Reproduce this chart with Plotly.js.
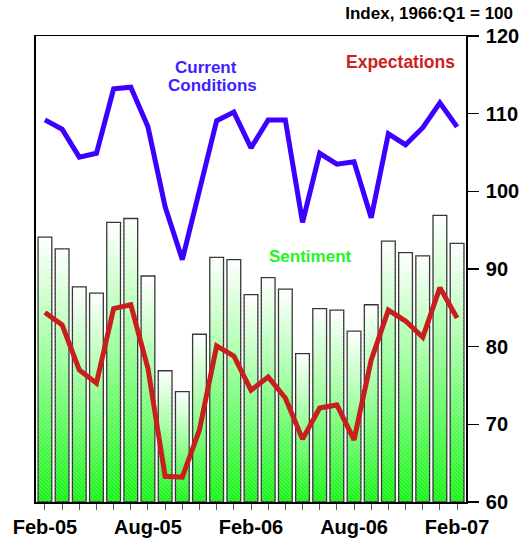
<!DOCTYPE html>
<html>
<head>
<meta charset="utf-8">
<script src="https://cdn.plot.ly/plotly-3.0.1.min.js"></script>
<style>
  html, body { margin: 0; padding: 0; background: #ffffff; }
  #chart { width: 519px; height: 544px; }
</style>
</head>
<body>
<div id="chart"></div>
<script>
// ---- Data ----
const months = [
  "Feb-05","Mar-05","Apr-05","May-05","Jun-05","Jul-05","Aug-05","Sep-05","Oct-05","Nov-05","Dec-05",
  "Jan-06","Feb-06","Mar-06","Apr-06","May-06","Jun-06","Jul-06","Aug-06","Sep-06","Oct-06","Nov-06","Dec-06",
  "Jan-07","Feb-07"
];
const sentiment = [94.1, 92.6, 87.7, 86.9, 96.0, 96.5, 89.1, 76.9, 74.2, 81.6, 91.5,
                   91.2, 86.7, 88.9, 87.4, 79.1, 84.9, 84.7, 82.0, 85.4, 93.6, 92.1, 91.7,
                   96.9, 93.3];
const currentConditions = [109.2, 108.0, 104.4, 104.9, 113.2, 113.4, 108.3, 98.0, 91.2, 100.4, 109.1,
                           110.2, 105.6, 109.2, 109.2, 96.0, 104.9, 103.5, 103.8, 96.6, 107.4, 106.0, 108.2,
                           111.4, 108.3];
const expectations = [84.4, 82.8, 77.0, 75.3, 84.9, 85.4, 77.2, 63.3, 63.2, 69.3, 80.1,
                      78.8, 74.4, 76.1, 73.4, 68.1, 72.1, 72.5, 68.0, 78.3, 84.7, 83.3, 81.2,
                      87.6, 83.7];
const labeledMonths = ["Feb-05","Aug-05","Feb-06","Aug-06","Feb-07"];
const yTicks = [60, 70, 80, 90, 100, 110, 120];
const axisFloor = 60;   // bars rise from the bottom of the value axis

const FONT = "Liberation Sans, Arial, Helvetica, sans-serif";

const traces = [
  {
    type: "bar", name: "Sentiment", x: months,
    base: axisFloor, y: sentiment.map(v => v - axisFloor),
    customdata: sentiment, hovertemplate: "%{x}: %{customdata}<extra></extra>",
    width: 0.8,
    marker: { color: "#7dff7d", line: { color: "#333333", width: 1.3 } }
  },
  {
    type: "scatter", mode: "lines", name: "Current Conditions", x: months, y: currentConditions,
    line: { color: "#3d00ff", width: 5 }
  },
  {
    type: "scatter", mode: "lines", name: "Expectations", x: months, y: expectations,
    line: { color: "#c81e1e", width: 5 }
  }
];

const layout = {
  width: 519, height: 544,
  margin: { l: 36, r: 53, t: 36, b: 42 },
  paper_bgcolor: "#ffffff", plot_bgcolor: "#ffffff",
  showlegend: false,
  font: { family: FONT, color: "#000000" },
  title: {
    text: "Index, 1966:Q1 = 100",
    font: { family: FONT, size: 17, weight: 700, color: "#000000" },
    x: 513 / 519, xanchor: "right", xref: "container",
    y: 1 - 13 / 544, yanchor: "middle", yref: "container"
  },
  xaxis: {
    type: "category",
    range: [-0.52, 24.52],
    tickmode: "array",
    tickvals: months,
    ticktext: months.map(m => labeledMonths.includes(m) ? m : ""),
    ticks: "outside", ticklen: 6, tickwidth: 1, tickcolor: "#555555",
    tickfont: { family: FONT, size: 20, weight: 700, color: "#000000" },
    showline: true, linecolor: "#000000", linewidth: 1.5, mirror: true,
    showgrid: false, zeroline: false, fixedrange: true
  },
  yaxis: {
    side: "right",
    range: [60, 120],
    tickmode: "array", tickvals: yTicks,
    ticks: "outside", ticklen: 11, tickwidth: 1.2, tickcolor: "#000000",
    ticklabelstandoff: 3,
    tickfont: { family: FONT, size: 20, weight: 700, color: "#000000" },
    showline: true, linecolor: "#000000", linewidth: 1.8, mirror: true,
    showgrid: false, zeroline: false, fixedrange: true
  },
  annotations: [
    { text: "Current", xref: "paper", yref: "paper", x: (206 - 36) / 430, y: (502 - 67) / 466,
      showarrow: false, xanchor: "center", yanchor: "middle",
      font: { family: FONT, size: 17, weight: 700, color: "#3d22ff" } },
    { text: "Conditions", xref: "paper", yref: "paper", x: (212 - 36) / 430, y: (502 - 86) / 466,
      showarrow: false, xanchor: "center", yanchor: "middle",
      font: { family: FONT, size: 17, weight: 700, color: "#3d22ff" } },
    { text: "Expectations", xref: "paper", yref: "paper", x: (400 - 36) / 430, y: (502 - 62) / 466,
      showarrow: false, xanchor: "center", yanchor: "middle",
      font: { family: FONT, size: 17.5, weight: 700, color: "#cc2222" } },
    { text: "Sentiment", xref: "paper", yref: "paper", x: (310 - 36) / 430, y: (502 - 256) / 466,
      showarrow: false, xanchor: "center", yanchor: "middle",
      font: { family: FONT, size: 17, weight: 700, color: "#22f522" } }
  ]
};

Plotly.newPlot("chart", traces, layout, { staticPlot: true, displayModeBar: false }).then(gd => {
  // Give each bar a white-to-green vertical gradient with faint diagonal hatching
  const svg = gd.querySelector("svg.main-svg");
  const NS = "http://www.w3.org/2000/svg";
  let defs = svg.querySelector("defs");
  if (!defs) { defs = document.createElementNS(NS, "defs"); svg.insertBefore(defs, svg.firstChild); }
  const grad = document.createElementNS(NS, "linearGradient");
  grad.setAttribute("id", "barGrad");
  grad.setAttribute("x1", "0"); grad.setAttribute("y1", "0");
  grad.setAttribute("x2", "0"); grad.setAttribute("y2", "1");
  [["0", "#ffffff"], ["0.45", "#9cff9c"], ["1", "#18f518"]].forEach(([o, c]) => {
    const s = document.createElementNS(NS, "stop");
    s.setAttribute("offset", o); s.setAttribute("stop-color", c);
    grad.appendChild(s);
  });
  defs.appendChild(grad);

  const pat = document.createElementNS(NS, "pattern");
  pat.setAttribute("id", "barHatch");
  pat.setAttribute("patternUnits", "userSpaceOnUse");
  pat.setAttribute("width", "4"); pat.setAttribute("height", "4");
  const ln = document.createElementNS(NS, "path");
  ln.setAttribute("d", "M-1,-1 L5,5");
  ln.setAttribute("stroke", "#ffffff");
  ln.setAttribute("stroke-opacity", "0.25");
  ln.setAttribute("stroke-width", "0.8");
  pat.appendChild(ln);
  defs.appendChild(pat);

  gd.querySelectorAll(".barlayer .point path").forEach(p => {
    p.style.fill = "url(#barGrad)";
    p.style.fillOpacity = "1";
    const h = p.cloneNode(false);
    h.style.fill = "url(#barHatch)";
    h.style.stroke = "none";
    h.style.strokeWidth = "0";
    p.parentNode.appendChild(h);
  });
});
</script>
</body>
</html>
